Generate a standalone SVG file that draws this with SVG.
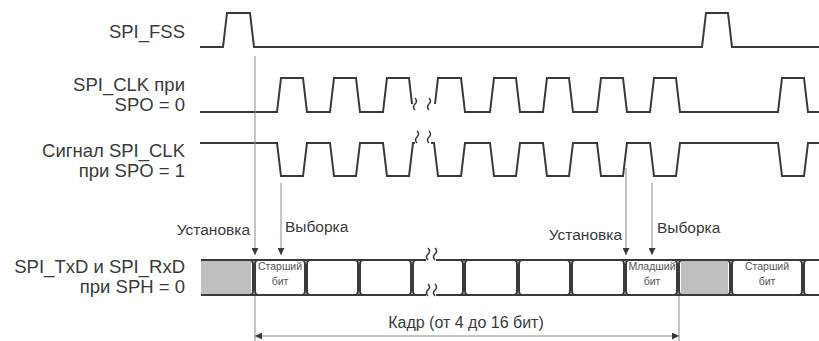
<svg xmlns="http://www.w3.org/2000/svg" width="819" height="341" viewBox="0 0 819 341">
<defs>
<style>
.sig{fill:none;stroke:#3a3a3a;stroke-width:2;stroke-linejoin:miter}
.brk{fill:none;stroke:#3a3a3a;stroke-width:1.5}
.guide{fill:none;stroke:#8a8a8a;stroke-width:1}
.lbl{font-family:"Liberation Sans",Arial,sans-serif;font-size:18.5px;fill:#3a3a3a;text-anchor:end}
.ann{font-family:"Liberation Sans",Arial,sans-serif;font-size:15.5px;fill:#3a3a3a}
.cell{font-family:"Liberation Sans",Arial,sans-serif;font-size:10.5px;fill:#555;text-anchor:middle}
.gray{fill:#bfbfbf}
</style>
<marker id="ah" viewBox="0 0 10 10" refX="10" refY="5" markerWidth="7" markerHeight="7" markerUnits="userSpaceOnUse" orient="auto-start-reverse">
<path d="M0,0 L10,5 L0,10 z" fill="#3a3a3a"/>
</marker>
<path id="bk" d="M0,-6 q3,3 0,6 q-3,3 0,6"/>
<path id="bd" d="M-4,-17.5 Q-1,-17.5 -1,-13 L-1,13 Q-1,17.5 -4,17.5 M4,-17.5 Q1,-17.5 1,-13 L1,13 Q1,17.5 4,17.5"/>
</defs>

<g id="labels">
<text class="lbl" x="185" y="38">SPI_FSS</text>
<text class="lbl" x="185" y="91">SPI_CLK при</text>
<text class="lbl" x="185" y="111">SPO = 0</text>
<text class="lbl" x="185" y="157">Сигнал SPI_CLK</text>
<text class="lbl" x="185" y="177">при SPO = 1</text>
<text class="lbl" x="185" y="273">SPI_TxD и SPI_RxD</text>
<text class="lbl" x="185" y="293">при SPH = 0</text>
</g>

<g id="sig-fss">
<path class="sig" d="M200,47 L223,47 L227,13 L250,13 L254,47 L702,47 L706,13 L728,13 L732,47 L819,47"/>
</g>

<g id="sig-clk0">
<path class="sig" d="M200,112 L277,112 L281,78 L303,78 L307,112 L330,112 L334,78 L356,78 L360,112 L383,112 L387,78 L409,78 L412,104"/>
<path class="sig" d="M435,104 L438,78 L461,78 L465,112 L490,112 L494,78 L516,78 L520,112 L543,112 L547,78 L569,78 L573,112 L597,112 L601,78 L623,78 L627,112 L650,112 L654,78 L676,78 L680,112 L778,112 L782,78 L804,78 L808,112 L819,112"/>
<use href="#bk" class="brk" x="415" y="104"/>
<use href="#bk" class="brk" x="429" y="104"/>
</g>

<g id="sig-clk1">
<path class="sig" d="M200,143 L277,143 L281,176 L303,176 L307,143 L330,143 L334,176 L356,176 L360,143 L383,143 L387,176 L409,176 L413,143 L415,143"/>
<path class="sig" d="M431,143 L434,143 L438,176 L461,176 L465,143 L490,143 L494,176 L516,176 L520,143 L543,143 L547,176 L569,176 L573,143 L597,143 L601,176 L623,176 L627,143 L650,143 L654,176 L676,176 L680,143 L778,143 L782,176 L804,176 L808,143 L819,143"/>
<use href="#bk" class="brk" x="417" y="137"/>
<use href="#bk" class="brk" x="429" y="137"/>
</g>

<g id="bus">
<rect class="gray" x="201" y="260" width="50" height="35"/>
<rect class="gray" x="681" y="260" width="47" height="35"/>
<path class="sig" d="M201,260 L426,260 M436,260 L819,260 M201,295 L426,295 M436,295 L819,295"/>
<use href="#bk" class="brk" x="428" y="254"/>
<use href="#bk" class="brk" x="435" y="254"/>
<use href="#bk" class="brk" x="428" y="290"/>
<use href="#bk" class="brk" x="435" y="290"/>
<g class="sig">
<use href="#bd" x="254" y="277.5"/>
<use href="#bd" x="306" y="277.5"/>
<use href="#bd" x="359" y="277.5"/>
<use href="#bd" x="412" y="277.5"/>
<use href="#bd" x="464" y="277.5"/>
<use href="#bd" x="518" y="277.5"/>
<use href="#bd" x="571" y="277.5"/>
<use href="#bd" x="625" y="277.5"/>
<use href="#bd" x="678" y="277.5"/>
<use href="#bd" x="731" y="277.5"/>
<use href="#bd" x="803" y="277.5"/>
</g>
<text class="cell" x="280" y="270">Старший</text>
<text class="cell" x="280" y="285">бит</text>
<text class="cell" x="652" y="270">Младший</text>
<text class="cell" x="652" y="285">бит</text>
<text class="cell" x="767" y="270">Старший</text>
<text class="cell" x="767" y="285">бит</text>
</g>

<g id="connectors">
<line class="guide" x1="255" y1="56" x2="255" y2="255" marker-end="url(#ah)"/>
<line class="guide" x1="281" y1="183" x2="281" y2="255" marker-end="url(#ah)"/>
<line class="guide" x1="626" y1="168" x2="626" y2="255" marker-end="url(#ah)"/>
<line class="guide" x1="652" y1="183" x2="652" y2="255" marker-end="url(#ah)"/>
<line class="guide" x1="255" y1="296" x2="255" y2="341"/>
<line class="guide" x1="679" y1="296" x2="679" y2="341"/>
<line class="guide" x1="255" y1="336" x2="679" y2="336" marker-start="url(#ah)" marker-end="url(#ah)"/>
</g>

<g id="annotations">
<text class="ann" x="250" y="235" text-anchor="end">Установка</text>
<text class="ann" x="285" y="232">Выборка</text>
<text class="ann" x="622" y="240" text-anchor="end">Установка</text>
<text class="ann" x="657" y="233">Выборка</text>
<text class="ann" x="466" y="328" text-anchor="middle" style="font-size:16px">Кадр (от 4 до 16 бит)</text>
</g>
</svg>
